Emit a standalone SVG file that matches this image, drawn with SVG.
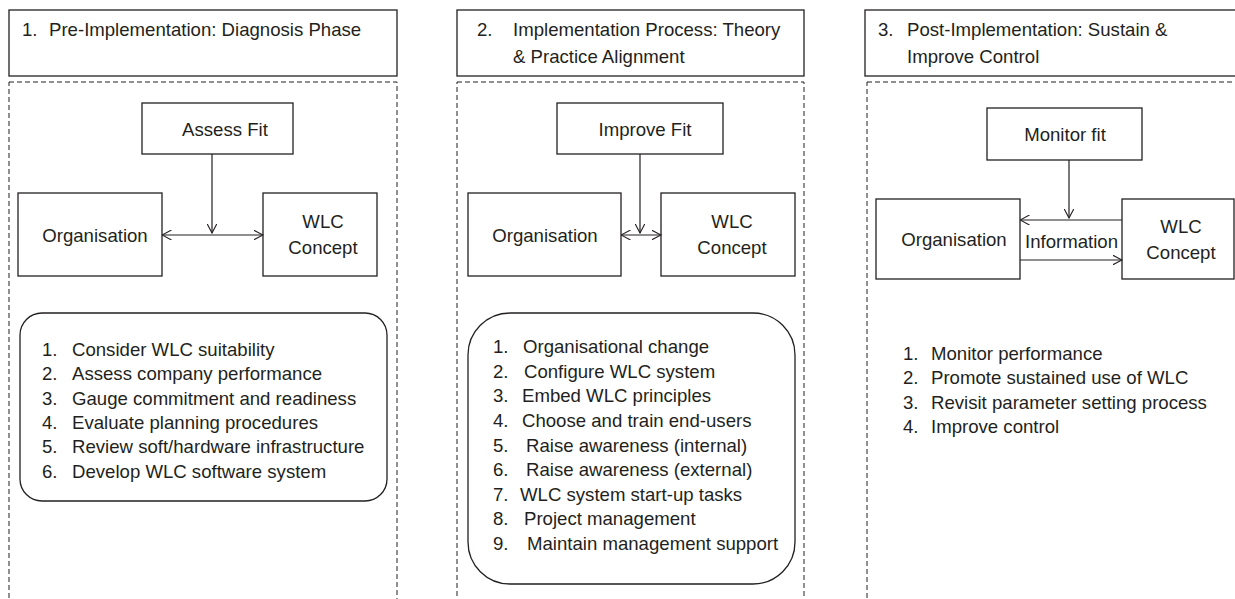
<svg xmlns="http://www.w3.org/2000/svg" width="1235" height="599" viewBox="0 0 1235 599">
<defs>
<marker id="ah" viewBox="0 0 10 10" refX="9.5" refY="5" markerWidth="10" markerHeight="10" markerUnits="userSpaceOnUse" orient="auto-start-reverse">
<path d="M0,0 L9.5,5 L0,10" fill="none" stroke="#231f20" stroke-width="1.1"/>
</marker>
<style>
.box{fill:#fff;stroke:#231f20;stroke-width:1.3}
.dash{fill:none;stroke:#231f20;stroke-width:1;stroke-dasharray:5,3}
.t{font-family:"Liberation Sans",Arial,sans-serif;font-size:18.6px;fill:#231f20}
.c{text-anchor:middle}
.ln{fill:none;stroke:#231f20;stroke-width:1.2}
</style>
</defs>
<rect width="1235" height="599" fill="#fff"/>

<g id="panel1">
<g id="header1"><rect class="box" x="9" y="10" width="388" height="66"/>
<text class="t" x="22" y="36">1.</text><text class="t" x="49" y="36">Pre-Implementation: Diagnosis Phase</text></g>
<rect class="dash" x="9" y="82" width="388" height="530"/>
<g id="assessfit"><rect class="box" x="142" y="103" width="151" height="51"/><text class="t c" x="225" y="136">Assess Fit</text></g>
<g id="org1"><rect class="box" x="18" y="193" width="144" height="83"/><text class="t c" x="95" y="242">Organisation</text></g>
<g id="wlc1"><rect class="box" x="263" y="193" width="114" height="83"/><text class="t c" x="323" y="228">WLC</text><text class="t c" x="323" y="254">Concept</text></g>
<g id="list1"><rect class="box" x="20" y="313" width="367" height="188" rx="22" ry="22"/>
<text class="t"><tspan x="42" y="356">1.</tspan><tspan x="72" y="356">Consider WLC suitability</tspan>
<tspan x="42" y="380">2.</tspan><tspan x="72" y="380">Assess company performance</tspan>
<tspan x="42" y="405">3.</tspan><tspan x="72" y="405">Gauge commitment and readiness</tspan>
<tspan x="42" y="429">4.</tspan><tspan x="72" y="429">Evaluate planning procedures</tspan>
<tspan x="42" y="453">5.</tspan><tspan x="72" y="453">Review soft/hardware infrastructure</tspan>
<tspan x="42" y="478">6.</tspan><tspan x="72" y="478">Develop WLC software system</tspan></text></g>
</g>

<g id="panel2">
<g id="header2"><rect class="box" x="457" y="10" width="347" height="66"/>
<text class="t" x="477" y="36">2.</text><text class="t" x="513" y="36">Implementation Process: Theory</text><text class="t" x="513" y="63">&amp; Practice Alignment</text></g>
<rect class="dash" x="457" y="82" width="347" height="530"/>
<g id="improvefit"><rect class="box" x="557" y="103" width="166" height="51"/><text class="t c" x="645" y="136">Improve Fit</text></g>
<g id="org2"><rect class="box" x="468" y="193" width="153" height="83"/><text class="t c" x="545" y="242">Organisation</text></g>
<g id="wlc2"><rect class="box" x="661" y="193" width="134" height="83"/><text class="t c" x="732" y="228">WLC</text><text class="t c" x="732" y="254">Concept</text></g>
<g id="list2"><rect class="box" x="468" y="313" width="327" height="271" rx="42" ry="42"/>
<text class="t"><tspan x="493" y="353">1.</tspan><tspan x="523" y="353">Organisational change</tspan>
<tspan x="493" y="378">2.</tspan><tspan x="524" y="378">Configure WLC system</tspan>
<tspan x="493" y="402">3.</tspan><tspan x="522" y="402">Embed WLC principles</tspan>
<tspan x="493" y="427">4.</tspan><tspan x="522" y="427">Choose and train end-users</tspan>
<tspan x="493" y="452">5.</tspan><tspan x="526" y="452">Raise awareness (internal)</tspan>
<tspan x="493" y="476">6.</tspan><tspan x="526" y="476">Raise awareness (external)</tspan>
<tspan x="493" y="501">7.</tspan><tspan x="520" y="501">WLC system start-up tasks</tspan>
<tspan x="493" y="525">8.</tspan><tspan x="524" y="525">Project management</tspan>
<tspan x="493" y="550">9.</tspan><tspan x="527" y="550">Maintain management support</tspan></text></g>
</g>

<g id="panel3">
<g id="header3"><rect class="box" x="865" y="10" width="380" height="66"/>
<text class="t" x="878" y="36">3.</text><text class="t" x="907" y="36">Post-Implementation: Sustain &amp;</text><text class="t" x="907" y="63">Improve Control</text></g>
<rect class="dash" x="867" y="82" width="400" height="530"/>
<g id="monitorfit"><rect class="box" x="987" y="108" width="155" height="52"/><text class="t c" x="1065" y="141">Monitor fit</text></g>
<g id="org3"><rect class="box" x="876" y="199" width="144" height="80"/><text class="t c" x="954" y="246">Organisation</text></g>
<g id="wlc3"><rect class="box" x="1122" y="199" width="112" height="80"/><text class="t c" x="1181" y="233">WLC</text><text class="t c" x="1181" y="259">Concept</text></g>
<text class="t" x="1025" y="248">Information</text>
<g id="list3"><text class="t"><tspan x="903" y="360">1.</tspan><tspan x="931" y="360">Monitor performance</tspan>
<tspan x="903" y="384">2.</tspan><tspan x="931" y="384">Promote sustained use of WLC</tspan>
<tspan x="903" y="409">3.</tspan><tspan x="931" y="409">Revisit parameter setting process</tspan>
<tspan x="903" y="433">4.</tspan><tspan x="931" y="433">Improve control</tspan></text></g>
</g>

<g id="connectors">
<line class="ln" x1="212" y1="154" x2="212" y2="233" marker-end="url(#ah)"/>
<line class="ln" x1="162" y1="235" x2="263" y2="235" marker-start="url(#ah)" marker-end="url(#ah)"/>
<line class="ln" x1="640" y1="154" x2="640" y2="233" marker-end="url(#ah)"/>
<line class="ln" x1="621" y1="235" x2="661" y2="235" marker-start="url(#ah)" marker-end="url(#ah)"/>
<line class="ln" x1="1069" y1="160" x2="1069" y2="218" marker-end="url(#ah)"/>
<line class="ln" x1="1122" y1="220" x2="1020" y2="220" marker-end="url(#ah)"/>
<line class="ln" x1="1020" y1="260" x2="1122" y2="260" marker-end="url(#ah)"/>
</g>
</svg>
